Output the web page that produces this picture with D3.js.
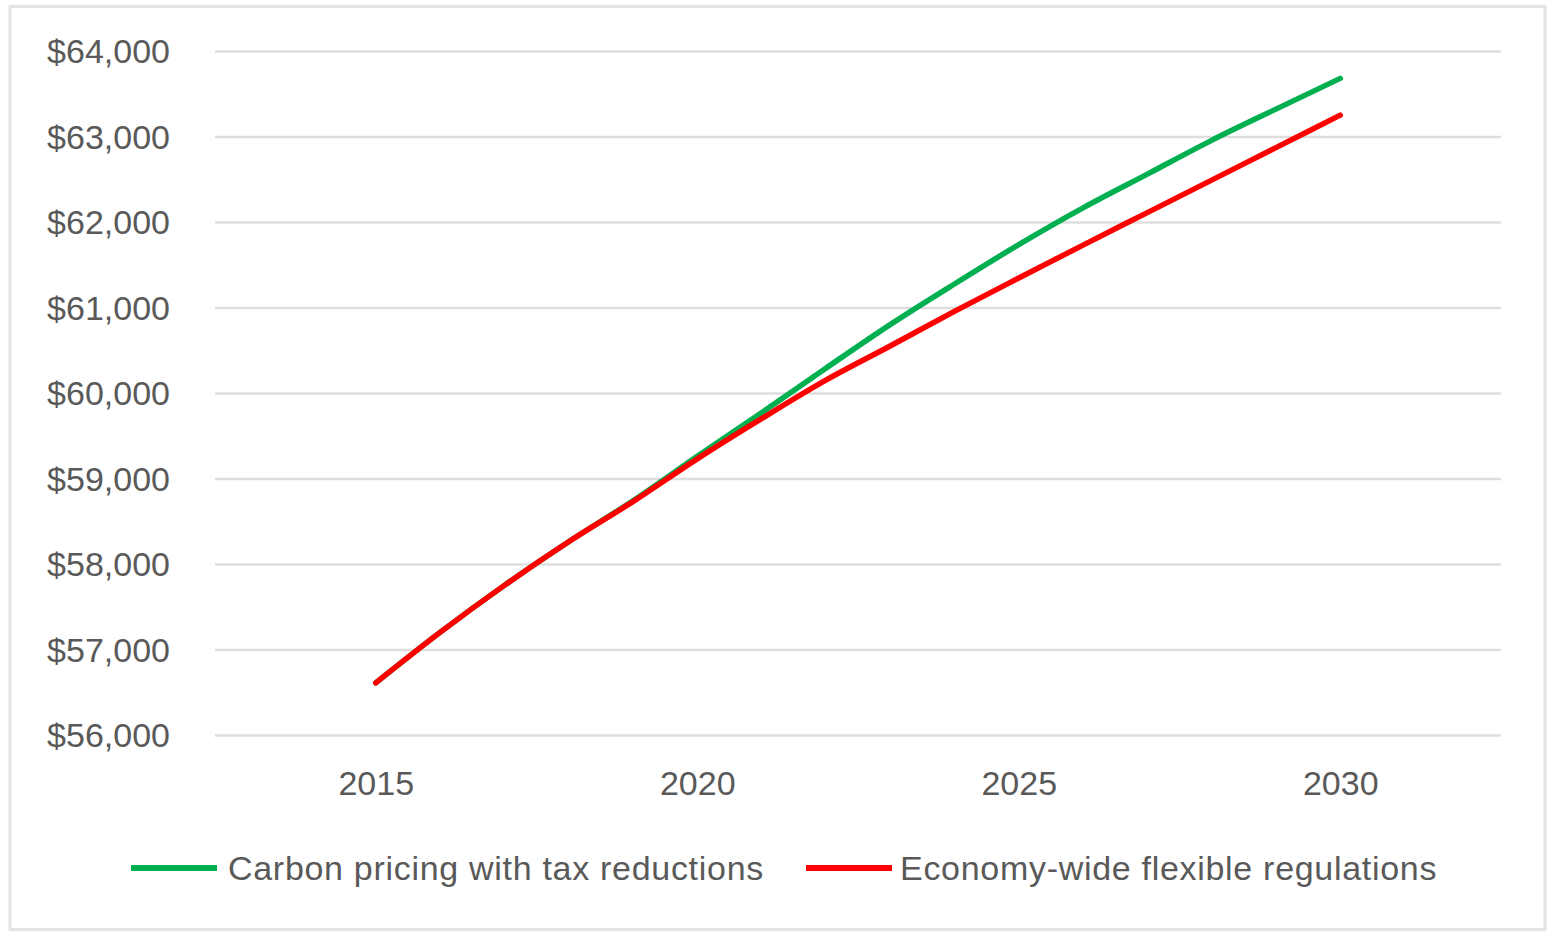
<!DOCTYPE html>
<html>
<head>
<meta charset="utf-8">
<script src="https://cdn.jsdelivr.net/npm/d3@7"></script>
<style>
  html, body { margin: 0; padding: 0; background: #fff; }
  svg { display: block; }
  text { font-family: "Liberation Sans", Arial, sans-serif; fill: #595959; }
</style>
</head>
<body>
<svg id="chart" width="1548" height="937"></svg>
<script>
const years = [2015, 2016, 2017, 2018, 2019, 2020, 2021, 2022, 2023, 2024, 2025, 2026, 2027, 2028, 2029, 2030];
const carbonPricing = [56610, 57200, 57750, 58260, 58740, 59260, 59770, 60290, 60800, 61275, 61735, 62165, 62560, 62955, 63320, 63680];
const flexibleRegs  = [56610, 57200, 57750, 58260, 58730, 59230, 59700, 60150, 60550, 60955, 61345, 61730, 62110, 62490, 62870, 63250];
const seriesNames = ["Carbon pricing with tax reductions", "Economy-wide flexible regulations"];
const seriesColors = ["#00B050", "#FF0000"];
const yTicks = [56000, 57000, 58000, 59000, 60000, 61000, 62000, 63000, 64000];
const xTicks = [2015, 2020, 2025, 2030];

const svg = d3.select("#chart");

// outer chart border
svg.append("rect")
  .attr("x", 10).attr("y", 6.5).attr("width", 1535).attr("height", 923)
  .attr("fill", "#fff").attr("stroke", "#e3e3e3").attr("stroke-width", 3);

const plot = { left: 215, right: 1501, top: 51, bottom: 735 };

const x = d3.scaleLinear().domain([2012.5, 2032.5]).range([plot.left, plot.right]);
const y = d3.scaleLinear().domain([56000, 64000]).range([plot.bottom, plot.top]);

// gridlines
const yAxis = d3.axisLeft(y).tickValues(yTicks)
  .tickSize(-(plot.right - plot.left))
  .tickPadding(45)
  .tickFormat(d => "$" + d3.format(",")(d));
const gy = svg.append("g").attr("transform", `translate(${plot.left},0)`).call(yAxis);
gy.select(".domain").remove();
gy.selectAll(".tick line").attr("stroke", "#dedede").attr("stroke-width", 2.5);
gy.selectAll(".tick text").attr("font-size", 34).attr("fill", "#595959")
  .attr("dy", "0.35em").attr("x", -45);

const xAxis = d3.axisBottom(x).tickValues(xTicks).tickSize(0).tickPadding(0).tickFormat(d3.format("d"));
const gx = svg.append("g").attr("transform", `translate(0,${plot.bottom})`).call(xAxis);
gx.select(".domain").remove();
gx.selectAll(".tick text").attr("font-size", 34).attr("fill", "#595959")
  .attr("y", 48).attr("dy", "0.35em");

// lines
const line = d3.line().x((d, i) => x(years[i])).y(d => y(d)).curve(d3.curveMonotoneX);
[carbonPricing, flexibleRegs].forEach((vals, k) => {
  svg.append("path")
    .datum(vals)
    .attr("d", line)
    .attr("fill", "none")
    .attr("stroke", seriesColors[k])
    .attr("stroke-width", 5.5)
    .attr("stroke-linecap", "round")
    .attr("stroke-linejoin", "round");
});

// legend
const legendY = 868;
const legendItems = [
  { sx: 131, ex: 217, tx: 228 },
  { sx: 806, ex: 892, tx: 900 }
];
legendItems.forEach((it, k) => {
  svg.append("line")
    .attr("x1", it.sx).attr("x2", it.ex).attr("y1", legendY).attr("y2", legendY)
    .attr("stroke", seriesColors[k]).attr("stroke-width", 6);
  svg.append("text")
    .attr("x", it.tx).attr("y", legendY).attr("dy", "0.35em")
    .attr("font-size", 34).attr("letter-spacing", "0.7px").attr("fill", "#595959")
    .text(seriesNames[k]);
});
</script>
</body>
</html>
